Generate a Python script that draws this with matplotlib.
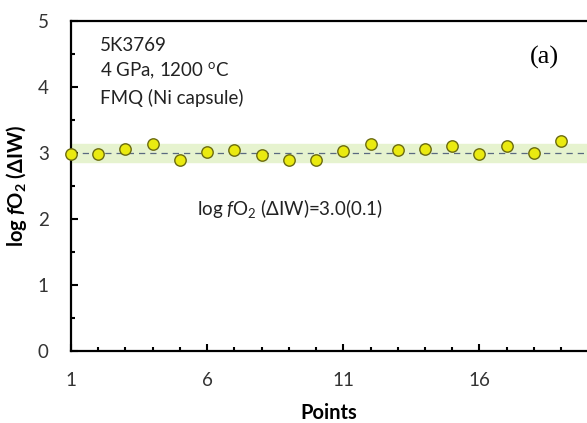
import matplotlib.pyplot as plt
from matplotlib.ticker import MultipleLocator, FixedLocator

points = list(range(1, 20))
log_fo2 = [2.99, 2.98, 3.06, 3.14, 2.89, 3.01, 3.04, 2.97, 2.89, 2.90,
           3.03, 3.14, 3.05, 3.06, 3.11, 2.98, 3.10, 3.00, 3.18]
x_major = [1, 6, 11, 16]
mean_val = 3.0
band_low, band_high = 2.86, 3.14

plt.rcParams['font.family'] = ['Lato', 'DejaVu Sans']
plt.rcParams['mathtext.fontset'] = 'custom'
plt.rcParams['mathtext.it'] = 'Lato:italic'
plt.rcParams['mathtext.rm'] = 'Lato'
plt.rcParams['mathtext.bfit'] = 'Lato:italic:bold'
plt.rcParams['mathtext.bf'] = 'Lato:bold'

fig = plt.figure(figsize=(5.87, 4.23), dpi=100)
ax = fig.add_axes([71 / 587, 72 / 423, 516 / 587, 330 / 423])

# uncertainty band and mean line
ax.axhspan(band_low, band_high, color='#e6f3cf', zorder=0)
ax.axhline(mean_val, color='#5a6a80', linestyle=(0, (5, 4)), linewidth=0.9, zorder=1)

ax.plot(points, log_fo2, 'o', markersize=8.2, markerfacecolor='#eaea10',
        markeredgecolor='#6b6b10', markeredgewidth=1.0, clip_on=False, zorder=3)

ax.set_xlim(1, 19.95)
ax.set_ylim(0, 5)
ax.xaxis.set_major_locator(FixedLocator(x_major))
ax.xaxis.set_minor_locator(MultipleLocator(1))
ax.yaxis.set_major_locator(MultipleLocator(1))
ax.yaxis.set_minor_locator(MultipleLocator(0.5))
ax.tick_params(which='both', direction='in', width=1.5, labelsize=13.5, labelcolor='#333333')
ax.tick_params(which='major', length=5)
ax.tick_params(which='minor', length=3)
ax.tick_params(axis='x', pad=15)
ax.tick_params(axis='y', pad=16)

for s in ['left', 'bottom', 'top']:
    ax.spines[s].set_linewidth(1.6)
ax.spines['right'].set_visible(False)

ax.set_xlabel('Points', fontsize=14.5, fontweight='bold', labelpad=10)
ax.set_ylabel(r'log $\mathbfit{f}$O$_\mathbf{2}$ (ΔIW)', fontsize=14.5, fontweight='bold', labelpad=6)

ax.text(2.05, 4.63, '5K3769', fontsize=13.5, va='center', color='#222222')
ax.text(2.05, 4.25, '4 GPa, 1200 $^{\\mathrm{o}}$C', fontsize=13.5, va='center', color='#222222')
ax.text(2.05, 3.84, 'FMQ (Ni capsule)', fontsize=13.5, va='center', color='#222222')
ax.text(17.85, 4.45, '(a)', fontsize=19, family='Liberation Serif', va='center')
ax.text(5.62, 2.16, r'log $\it{f}$O$_2$ (ΔIW)=3.0(0.1)', fontsize=13.5, va='center', color='#222222')

fig.savefig('out.png', dpi=100)
